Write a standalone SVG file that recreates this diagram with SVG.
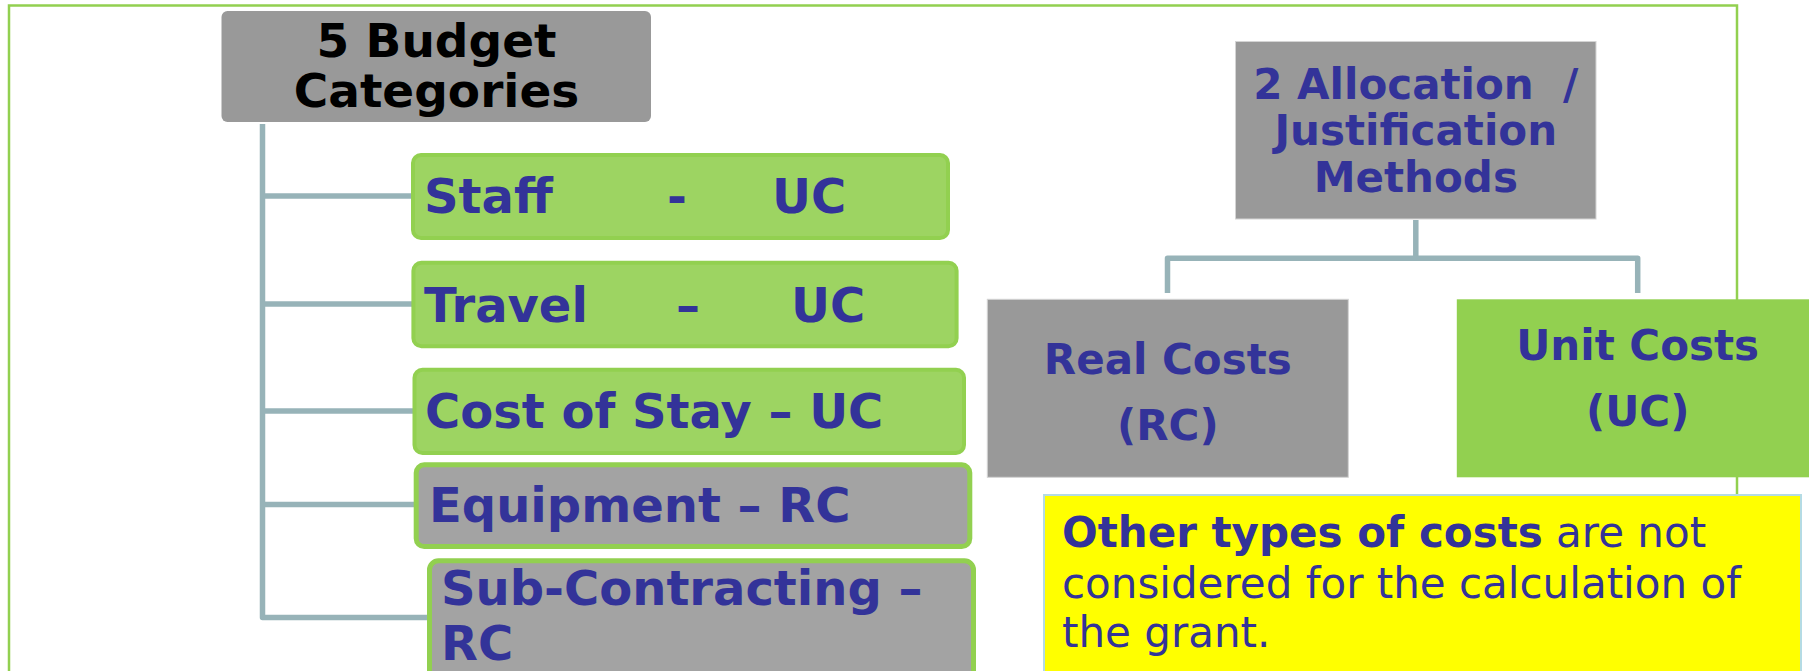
<svg xmlns="http://www.w3.org/2000/svg" width="1809" height="671" viewBox="0 0 1809 671">
<style>
  .t { font-family: "DejaVu Sans", Verdana, sans-serif; font-weight: bold; fill: #333399; }
  .lvl { font-size: 48px; }
  .green { fill: #9dd462; stroke: #92d050; stroke-width: 4; }
  .grayg { fill: #a3a3a3; stroke: #92d050; stroke-width: 5; }
  .conn { fill: none; stroke: #97b3b8; stroke-width: 5.5; stroke-linejoin: round; stroke-linecap: butt; }
  .mid { text-anchor: middle; }
</style>
<rect x="0" y="0" width="1809" height="671" fill="#ffffff"/>
<rect id="frame" x="9" y="5.5" width="1728" height="800" fill="none" stroke="#92d050" stroke-width="2.5"/>

<g id="connectors">
  <path class="conn" d="M262.5 124 V617.5 H430"/>
  <path class="conn" d="M262.5 196 H414"/>
  <path class="conn" d="M262.5 304 H414"/>
  <path class="conn" d="M262.5 411 H415"/>
  <path class="conn" d="M262.5 504.5 H416"/>
  <path class="conn" d="M1415.8 220 V258.3"/>
  <path class="conn" d="M1167.5 293 V258.3 H1637.7 V293"/>
</g>

<g id="budget-categories">
  <rect x="221.5" y="11" width="429.5" height="111" rx="6" fill="#999999"/>
  <text class="mid" x="436.5" y="57" font-family="DejaVu Sans, Verdana, sans-serif" font-weight="bold" font-size="47" fill="#000000">5 Budget</text>
  <text class="mid" x="436.5" y="107" font-family="DejaVu Sans, Verdana, sans-serif" font-weight="bold" font-size="47" fill="#000000">Categories</text>
</g>

<g id="staff">
  <rect class="green" x="413" y="155" width="535" height="83" rx="8"/>
  <text class="t lvl" y="213"><tspan x="424">Staff</tspan><tspan x="667">-</tspan><tspan x="772">UC</tspan></text>
</g>

<g id="travel">
  <rect class="green" x="413.4" y="262.7" width="543.2" height="83.6" rx="8"/>
  <text class="t lvl" y="322"><tspan x="424">Travel</tspan><tspan x="676">–</tspan><tspan x="791">UC</tspan></text>
</g>

<g id="cost-of-stay">
  <rect class="green" x="414.5" y="369.7" width="549.5" height="83.3" rx="8"/>
  <text class="t lvl" x="425" y="428">Cost of Stay – UC</text>
</g>

<g id="equipment">
  <rect class="grayg" x="416.2" y="464.8" width="553.6" height="81.7" rx="8"/>
  <text class="t lvl" x="429" y="522">Equipment – RC</text>
</g>

<g id="sub-contracting">
  <rect class="grayg" x="429.5" y="560.8" width="544" height="160" rx="9"/>
  <text class="t lvl" x="441" y="605">Sub-Contracting –</text>
  <text class="t lvl" x="441" y="660">RC</text>
</g>

<g id="allocation-methods">
  <rect x="1235.5" y="41.5" width="360.5" height="177.5" fill="#999999" stroke="#d4d4d4" stroke-width="1"/>
  <text class="t mid" x="1415.8" y="99" font-size="42" xml:space="preserve" style="white-space:pre">2 Allocation  /</text>
  <text class="t mid" x="1415.8" y="145" font-size="42">Justification</text>
  <text class="t mid" x="1415.8" y="191.7" font-size="42">Methods</text>
</g>

<g id="real-costs">
  <rect x="987.3" y="299.3" width="361" height="178" fill="#999999" stroke="#d4d4d4" stroke-width="1"/>
  <text class="t mid" x="1167.8" y="374" font-size="42">Real Costs</text>
  <text class="t mid" x="1167.8" y="440" font-size="42">(RC)</text>
</g>

<g id="unit-costs">
  <rect x="1456.8" y="299.3" width="362" height="178" fill="#92d050"/>
  <text class="t mid" x="1637.7" y="360" font-size="42">Unit Costs</text>
  <text class="t mid" x="1637.7" y="426" font-size="42">(UC)</text>
</g>

<g id="note">
  <rect x="1044" y="495" width="757" height="220" fill="#ffff00" stroke="#b4dbe4" stroke-width="2"/>
  <text x="1062" y="547" font-family="DejaVu Sans, Verdana, sans-serif" font-size="42" fill="#333399"><tspan font-weight="bold">Other types of costs</tspan> are not</text>
  <text x="1062" y="598" font-family="DejaVu Sans, Verdana, sans-serif" font-size="42" fill="#333399">considered for the calculation of</text>
  <text x="1062" y="647" font-family="DejaVu Sans, Verdana, sans-serif" font-size="42" fill="#333399">the grant.</text>
</g>
</svg>
